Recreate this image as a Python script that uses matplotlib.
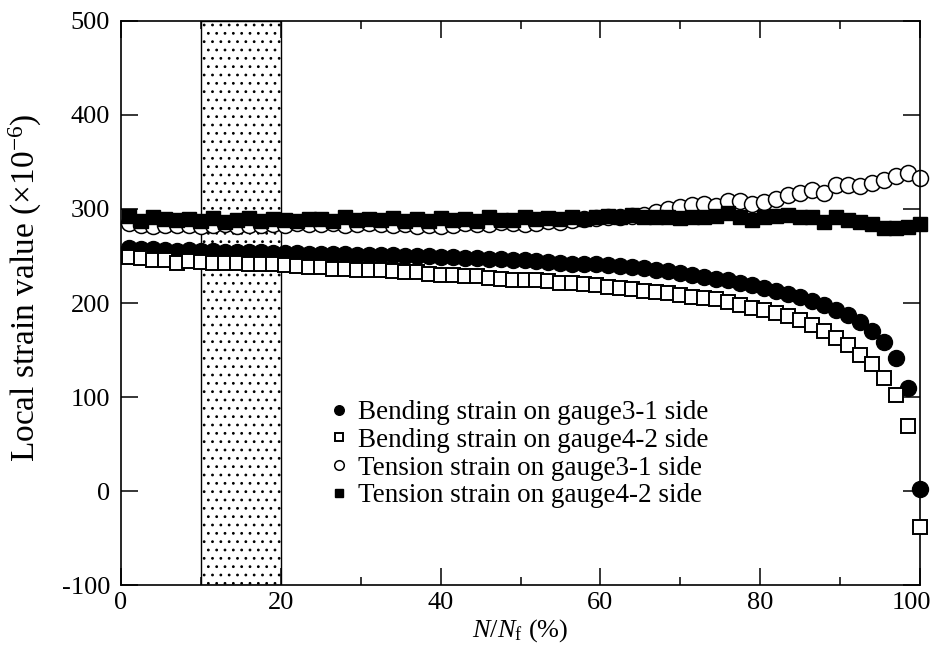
import matplotlib
matplotlib.use("Agg")
import matplotlib.pyplot as plt
from matplotlib.ticker import MultipleLocator
from matplotlib.transforms import ScaledTranslation

plt.rcParams["font.family"] = ["Liberation Serif", "DejaVu Serif"]
plt.rcParams["mathtext.fontset"] = "custom"
plt.rcParams["mathtext.rm"] = "Liberation Serif"
plt.rcParams["mathtext.it"] = "Liberation Serif:italic"
plt.rcParams["axes.unicode_minus"] = False
plt.rcParams["hatch.linewidth"] = 0.8

# Fatigue life fraction N/Nf (%)
life = [1, 2.5, 4, 5.5, 7, 8.5, 10, 11.5, 13, 14.5, 16, 17.5, 19, 20.5, 22, 23.5,
        25, 26.5, 28, 29.5, 31, 32.5, 34, 35.5, 37, 38.5, 40, 41.5, 43, 44.5, 46,
        47.5, 49, 50.5, 52, 53.5, 55, 56.5, 58, 59.5, 61, 62.5, 64, 65.5, 67, 68.5,
        70, 71.5, 73, 74.5, 76, 77.5, 79, 80.5, 82, 83.5, 85, 86.5, 88, 89.5, 91,
        92.5, 94, 95.5, 97, 98.5, 100]

bending_31 = [258, 257, 257, 256, 255, 256, 255, 255, 254, 254, 254, 254, 253, 253,
              253, 252, 252, 252, 252, 251, 251, 251, 251, 250, 250, 250, 249, 249,
              248, 248, 247, 247, 246, 246, 245, 244, 243, 242, 242, 241, 240, 239,
              238, 237, 235, 234, 232, 230, 228, 226, 224, 221, 219, 216, 213, 210,
              206, 202, 198, 193, 187, 180, 170, 158, 141, 110, 2]

bending_42 = [249, 248, 246, 246, 243, 245, 244, 243, 243, 243, 242, 241, 241, 240,
              239, 238, 238, 236, 236, 235, 235, 235, 234, 233, 233, 231, 230, 230,
              229, 229, 227, 226, 225, 224, 224, 223, 221, 221, 220, 219, 217, 216,
              215, 213, 212, 211, 208, 206, 205, 204, 201, 198, 195, 193, 189, 186,
              182, 177, 170, 163, 155, 145, 135, 120, 102, 69, -38]

tension_31 = [285, 283, 282, 283, 283, 283, 282, 283, 284, 282, 283, 283, 284, 283,
              285, 284, 284, 285, 283, 284, 285, 284, 283, 284, 282, 283, 282, 283,
              285, 284, 284, 286, 285, 284, 285, 287, 286, 288, 289, 290, 291, 292,
              293, 294, 297, 300, 302, 304, 305, 303, 309, 309, 305, 307, 311, 315,
              317, 320, 317, 326, 326, 324, 328, 331, 335, 338, 333]

tension_42 = [293, 287, 291, 289, 288, 289, 287, 290, 286, 288, 290, 287, 289, 288,
              287, 289, 289, 287, 291, 288, 289, 288, 290, 287, 289, 287, 290, 288,
              289, 287, 291, 288, 288, 291, 289, 290, 289, 291, 289, 292, 293, 291,
              294, 292, 291, 292, 290, 292, 291, 293, 296, 292, 288, 291, 293, 294,
              292, 291, 286, 291, 288, 286, 284, 280, 280, 281, 284]

series_labels = ["Bending strain on gauge3-1 side",
                 "Bending strain on gauge4-2 side",
                 "Tension strain on gauge3-1 side",
                 "Tension strain on gauge4-2 side"]

x_ticks = [0, 20, 40, 60, 80, 100]
y_ticks = [-100, 0, 100, 200, 300, 400, 500]
band = (10, 20)

fig = plt.figure(figsize=(9.36, 6.6), dpi=100)
ax = fig.add_axes([0.1293, 0.1136, 0.8536, 0.8546])

# stippled interval
ax.axvspan(band[0], band[1], facecolor="white", edgecolor="black",
           hatch="..", linewidth=1.0, zorder=0)

ms_c, ms_s = 11.5, 10.5
common = dict(linestyle="none", clip_on=False)
ax.plot(life, bending_31, marker="o", ms=ms_c, mfc="black", mec="black", mew=1.0,
        label=series_labels[0], zorder=2, **common)
ax.plot(life, bending_42, marker="s", ms=ms_s, mfc="white", mec="black", mew=1.4,
        label=series_labels[1], zorder=3, **common)
ax.plot(life, tension_31, marker="o", ms=ms_c, mfc="white", mec="black", mew=1.1,
        label=series_labels[2], zorder=2, **common)
ax.plot(life, tension_42, marker="s", ms=ms_s, mfc="black", mec="black", mew=1.0,
        label=series_labels[3], zorder=3, **common)

ax.set_xlim(0, 100)
ax.set_ylim(-100, 500)
ax.set_xticks(x_ticks)
ax.set_yticks(y_ticks)
ax.xaxis.set_minor_locator(MultipleLocator(10))
ax.tick_params(which="both", direction="in", top=True, right=True,
               labelsize=19, width=1.1)
ax.tick_params(axis="x", pad=5)
ax.tick_params(axis="y", pad=8)
ax.tick_params(which="major", length=12)
ax.tick_params(which="minor", length=6)
ax.tick_params(axis="y", which="minor", left=False, right=False)
for s in ax.spines.values():
    s.set_linewidth(1.2)

ax.set_xlabel(r"$N/N_{\mathrm{f}}$ (%)", fontsize=19, labelpad=2)
ax.set_ylabel(r"Local strain value ($\times$10$^{-6}$)", fontsize=24)
ax.yaxis.set_label_coords(-0.097, 0.527)

ax.legend(loc="center left", bbox_to_anchor=(0.249, 0.232), frameon=False,
          fontsize=19.5, markerscale=0.6, handlelength=0.6, handletextpad=0.4,
          labelspacing=0.1, borderaxespad=0)

# nudge the right-most x label so it stays inside the canvas
last_tick = ax.xaxis.get_major_ticks()[len(x_ticks) - 1]
last_tick.label1.set_transform(last_tick.label1.get_transform()
                               + ScaledTranslation(-6 / 72, 0, fig.dpi_scale_trans))

fig.savefig("out.png", dpi=100)
